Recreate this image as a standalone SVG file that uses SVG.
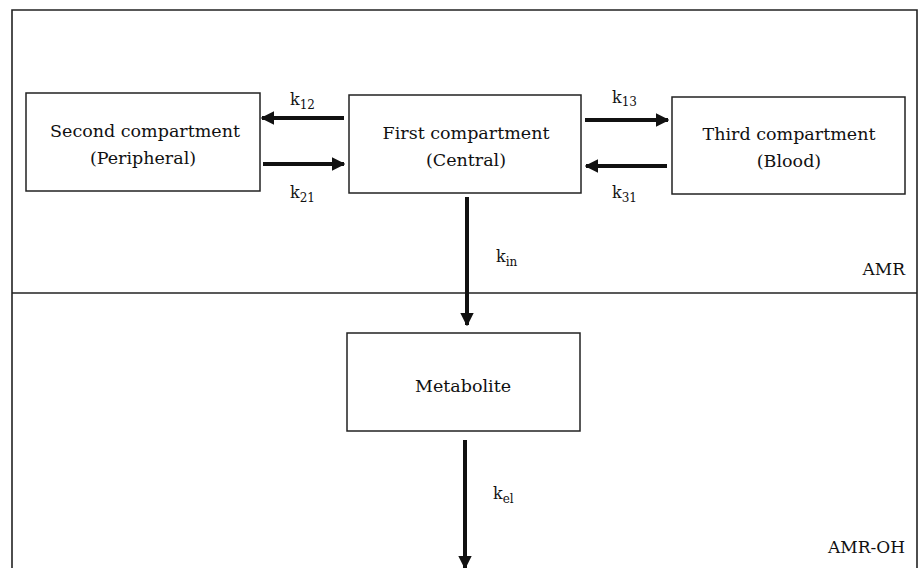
<svg xmlns="http://www.w3.org/2000/svg" width="922" height="568" viewBox="0 0 922 568">
<defs>
<marker id="ah" viewBox="0 0 10 10" refX="9" refY="5" markerWidth="3.4" markerHeight="3.4" orient="auto" markerUnits="strokeWidth">
<path d="M0,0 L10,5 L0,10 Z" fill="#111"/>
</marker>
<style>
.frame{fill:none;stroke:#222;stroke-width:1.6}
.box{fill:#fff;stroke:#222;stroke-width:1.5}
.t{font-family:"DejaVu Serif","Liberation Serif",serif;font-size:17.5px;fill:#111;text-anchor:middle}
.k{font-family:"DejaVu Serif","Liberation Serif",serif;font-size:16px;fill:#111}
.s{font-size:12px}
.lbl{font-family:"DejaVu Serif","Liberation Serif",serif;font-size:17px;fill:#111;text-anchor:end}
.arr{stroke:#111;stroke-width:4;fill:none;marker-end:url(#ah)}
</style>
</defs>
<rect width="922" height="568" fill="#fff"/>
<g id="frame">
<path class="frame" d="M12,575 L12,10 L917,10 L917,575"/>
<line class="frame" x1="12" y1="293" x2="917" y2="293"/>
<text class="lbl" x="905" y="275">AMR</text>
<text class="lbl" x="905" y="553">AMR-OH</text>
</g>
<g id="second">
<rect class="box" x="26" y="93" width="234" height="98"/>
<text class="t" x="145" y="137">Second compartment</text>
<text class="t" x="143" y="164">(Peripheral)</text>
</g>
<g id="first">
<rect class="box" x="349" y="95" width="232" height="98"/>
<text class="t" x="466" y="139">First compartment</text>
<text class="t" x="466" y="166">(Central)</text>
</g>
<g id="third">
<rect class="box" x="672" y="97" width="233" height="97"/>
<text class="t" x="789" y="140">Third compartment</text>
<text class="t" x="789" y="167">(Blood)</text>
</g>
<g id="metabolite">
<rect class="box" x="347" y="333" width="233" height="98"/>
<text class="t" x="463" y="392">Metabolite</text>
</g>
<g id="connectors">
<line class="arr" x1="344" y1="118" x2="262" y2="118"/>
<line class="arr" x1="263" y1="164" x2="344" y2="164"/>
<line class="arr" x1="585" y1="120" x2="668" y2="120"/>
<line class="arr" x1="667" y1="166" x2="586" y2="166"/>
<line class="arr" x1="467" y1="197" x2="467" y2="325"/>
<line class="arr" x1="465" y1="440" x2="465" y2="568"/>
<text class="k" x="290" y="105">k<tspan class="s" dy="4">12</tspan></text>
<text class="k" x="290" y="198">k<tspan class="s" dy="4">21</tspan></text>
<text class="k" x="612" y="103">k<tspan class="s" dy="3">13</tspan></text>
<text class="k" x="612" y="198">k<tspan class="s" dy="4">31</tspan></text>
<text class="k" x="496" y="262">k<tspan class="s" dy="4">in</tspan></text>
<text class="k" x="493" y="499">k<tspan class="s" dy="4">el</tspan></text>
</g>
</svg>
